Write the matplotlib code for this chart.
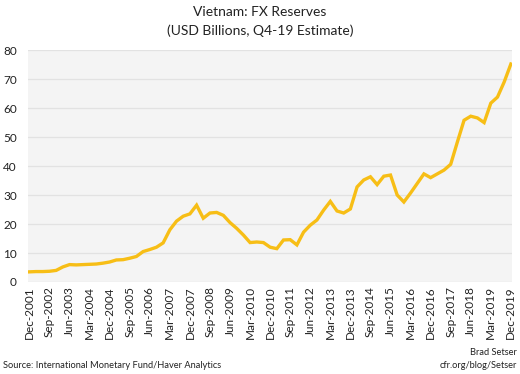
import matplotlib
matplotlib.use("Agg")
import matplotlib.pyplot as plt
import numpy as np

plt.rcParams['font.family'] = ['Lato', 'DejaVu Sans']

tick_labels = ["Dec-2001", "Sep-2002", "Jun-2003", "Mar-2004", "Dec-2004", "Sep-2005",
               "Jun-2006", "Mar-2007", "Dec-2007", "Sep-2008", "Jun-2009", "Mar-2010",
               "Dec-2010", "Sep-2011", "Jun-2012", "Mar-2013", "Dec-2013", "Sep-2014",
               "Jun-2015", "Mar-2016", "Dec-2016", "Sep-2017", "Jun-2018", "Mar-2019",
               "Dec-2019"]

reserves = [3.5, 3.6, 3.6, 3.7, 4.0, 5.2, 6.0, 5.9, 6.0, 6.1,
            6.2, 6.5, 6.9, 7.6, 7.7, 8.2, 8.8, 10.5, 11.2, 12.0,
            13.5, 18.0, 21.0, 22.7, 23.5, 26.5, 22.0, 23.8, 24.0, 23.0,
            20.5, 18.5, 16.2, 13.6, 13.8, 13.6, 12.0, 11.5, 14.5, 14.6,
            12.8, 17.2, 19.6, 21.4, 24.8, 27.8, 24.5, 23.8, 25.2, 32.8,
            35.2, 36.3, 33.6, 36.5, 36.9, 30.0, 27.6, 30.7, 34.0, 37.3,
            36.0, 37.3, 38.6, 40.6, 48.3, 55.8, 57.2, 56.6, 55.0, 61.7,
            63.8, 69.0, 75.2]

x = np.arange(len(reserves))

fig = plt.figure(figsize=(5.2, 3.74), dpi=100)
ax = fig.add_axes([0.054, 0.246, 0.931, 0.62])
ax.set_facecolor('#f4f4f4')
ax.plot(x, reserves, color='#F7BE16', lw=2.4, solid_joinstyle='miter')
ax.set_xlim(-0.2, 72.2)
ax.set_ylim(0, 80)
ax.set_yticks(range(0, 81, 10))
ax.set_xticks(x[::3])
ax.set_xticklabels(tick_labels, rotation=90, fontsize=8.5, color='#222222')
ax.tick_params(axis='y', labelsize=8.5, colors='#222222', length=0, pad=8)
ax.tick_params(axis='x', length=0, pad=3)
ax.grid(axis='y', color='#e2e2e2', lw=0.9)
ax.set_axisbelow(True)
for s in ax.spines.values():
    s.set_visible(False)

fig.text(0.5, 0.968, "Vietnam: FX Reserves", ha='center', va='center', fontsize=10, color='#222222')
fig.text(0.5, 0.918, "(USD Billions, Q4-19 Estimate)", ha='center', va='center', fontsize=10, color='#222222')
fig.text(0.006, 0.022, "Source: International Monetary Fund/Haver Analytics", ha='left', va='center', fontsize=6.7, color='#222222')
fig.text(0.994, 0.058, "Brad Setser", ha='right', va='center', fontsize=6.7, color='#222222')
fig.text(0.994, 0.022, "cfr.org/blog/Setser", ha='right', va='center', fontsize=6.7, color='#222222')

fig.savefig("out.png", dpi=100, facecolor='white')
